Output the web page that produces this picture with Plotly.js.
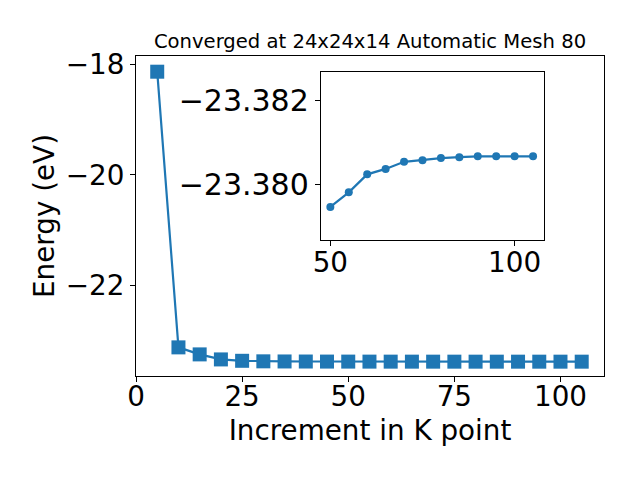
<!DOCTYPE html>
<html>
<head>
<meta charset="utf-8">
<script src="https://cdn.plot.ly/plotly-3.0.1.min.js"></script>
<style>body{margin:0;padding:0;background:#fff;} #chart{width:640px;height:480px;}</style>
</head>
<body>
<div id="chart"></div>
<script>
// K-point increments and total energies (eV)
const kPoints = [5, 10, 15, 20, 25, 30, 35, 40, 45, 50, 55, 60, 65, 70, 75, 80, 85, 90, 95, 100, 105];
const energy = [-18.134, -23.122, -23.249, -23.340, -23.365, -23.3745, -23.377, -23.378, -23.379,
  -23.37946, -23.37981, -23.38024, -23.38037, -23.38054, -23.38058, -23.38063, -23.38065,
  -23.38067, -23.38067, -23.38067, -23.38067];
// inset: zoom on k >= 50
const insetStart = 50;
const insetK = kPoints.filter(k => k >= insetStart);
const insetEnergy = energy.filter((e, i) => kPoints[i] >= insetStart);
const mainXTicks = [0, 25, 50, 75, 100];
const mainYTicks = [-18, -20, -22];
const insetXTicks = [50, 100];
const insetYTicks = [-23.382, -23.380];
const insetYTickText = ['−23.382', '−23.380'];

const blue = '#1f77b4';
const font = 'DejaVu Sans, sans-serif';

const traces = [
  {x: kPoints, y: energy, type: 'scatter', mode: 'lines+markers',
   line: {color: blue, width: 2.2}, marker: {symbol: 'square', size: 14, color: blue},
   xaxis: 'x', yaxis: 'y', hoverinfo: 'none'},
  {x: insetK, y: insetEnergy, type: 'scatter', mode: 'lines+markers',
   line: {color: blue, width: 2.2}, marker: {symbol: 'circle', size: 8, color: blue},
   xaxis: 'x2', yaxis: 'y2', hoverinfo: 'none'}
];

const axisCommon = {
  showline: true, linecolor: '#000', linewidth: 1, mirror: true,
  ticks: 'outside', ticklen: 5, tickwidth: 1, tickcolor: '#000',
  showgrid: false, zeroline: false,
  tickfont: {family: font, size: 27.8, color: '#000'}
};

const layout = {
  width: 640, height: 480,
  margin: {l: 136, r: 36, t: 56, b: 104},
  paper_bgcolor: '#fff', plot_bgcolor: '#fff',
  showlegend: false,
  font: {family: font, color: '#000'},
  title: {text: 'Converged at 24x24x14 Automatic Mesh 80', font: {family: font, size: 19.6, color: '#000'},
          x: 0.5, xref: 'paper', y: 1 - 41/480, yref: 'container', yanchor: 'middle'},
  xaxis: Object.assign({}, axisCommon, {
    range: [0, 110.25], tickvals: mainXTicks, domain: [0, 1], anchor: 'y',
    ticklabelstandoff: -9,
    title: {text: 'Increment in K point', font: {family: font, size: 27.8, color: '#000'}, standoff: 8}
  }),
  yaxis: Object.assign({}, axisCommon, {
    range: [-23.64, -17.85], tickvals: mainYTicks, domain: [0, 1], anchor: 'x',
    title: {text: 'Energy (eV)', font: {family: font, size: 27.8, color: '#000'}, standoff: 3}
  }),
  xaxis2: Object.assign({}, axisCommon, {
    range: [47.4, 108.0], tickvals: insetXTicks, domain: [0.3948, 0.872], anchor: 'y2',
    ticklabelstandoff: -7
  }),
  yaxis2: Object.assign({}, axisCommon, {
    range: [-23.37867, -23.38268], tickvals: insetYTicks, ticktext: insetYTickText,
    domain: [0.425, 0.949], anchor: 'x2',
    tickfont: {family: font, size: 30, color: '#000'}
  })
};

Plotly.newPlot('chart', traces, layout, {staticPlot: true, displayModeBar: false});
</script>
</body>
</html>
